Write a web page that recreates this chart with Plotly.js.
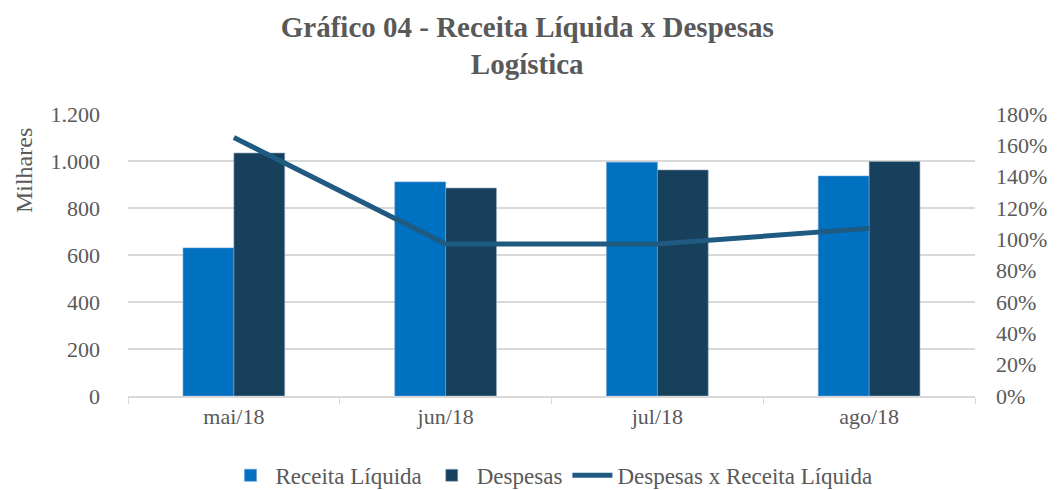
<!DOCTYPE html>
<html>
<head>
<meta charset="utf-8">
<script src="https://cdn.plot.ly/plotly-3.0.1.min.js"></script>
<style>
    html, body { margin: 0; padding: 0; background: #ffffff; }
    #plotDiv { width: 1063px; height: 490px; }
</style>
</head>
<body>
<div id="plotDiv"></div>
<script>
// values (milhares / %)
var meses = ['mai/18', 'jun/18', 'jul/18', 'ago/18'];
var receitaLiquida = [630, 911, 995, 936];
var despesas = [1034, 885, 962, 998];
var despesasSobreReceita = [165, 97, 97, 107];

var fontFamily = '"Liberation Serif", "DejaVu Serif", serif';
var textColor = '#595959';

function initializePlotDiv() {
    var plotDiv = document.getElementById('plotDiv');

    var trace_receita = {
        x: meses,
        y: receitaLiquida,
        type: 'bar',
        name: 'Receita Líquida',
        marker: {color: '#0070C0', line: {color: '#5B9BD5', width: 0.6}}
    };

    var trace_despesas = {
        x: meses,
        y: despesas,
        type: 'bar',
        name: 'Despesas',
        marker: {color: '#16405B', line: {color: '#8FA8BC', width: 0.6}}
    };

    var trace_ratio = {
        x: meses,
        y: despesasSobreReceita,
        type: 'scatter',
        mode: 'lines',
        yaxis: 'y2',
        name: 'Despesas x Receita Líquida',
        line: {color: '#1F5A80', width: 5}
    };

    var layoutOpt = {
        title: {
            text: '<b>Gráfico 04 - Receita Líquida x Despesas<br>Logística</b>',
            x: 0.496,
            xanchor: 'center',
            yref: 'container',
            y: 0.925,
            yanchor: 'top',
            font: {family: fontFamily, size: 29, color: textColor}
        },
        separators: ',.',
        barmode: 'group',
        bargap: 0.52,
        bargroupgap: 0,
        plot_bgcolor: '#ffffff',
        paper_bgcolor: '#ffffff',
        font: {family: fontFamily, size: 22, color: textColor},
        xaxis: {
            showline: true,
            linecolor: '#d9d9d9',
            linewidth: 1.5,
            ticks: 'outside',
            tickson: 'boundaries',
            ticklen: 6,
            tickcolor: '#d9d9d9',
            tickfont: {family: fontFamily, size: 22, color: textColor}
        },
        yaxis: {
            range: [0, 1200],
            dtick: 200,
            tickformat: ',d',
            gridcolor: '#d9d9d9',
            gridwidth: 1.5,
            zeroline: false,
            ticks: '',
            ticklabelstandoff: 27,
            automargin: false,
            tickfont: {family: fontFamily, size: 22, color: textColor}
        },
        yaxis2: {
            overlaying: 'y',
            side: 'right',
            range: [0, 180],
            dtick: 20,
            ticksuffix: '%',
            showgrid: false,
            zeroline: false,
            automargin: false,
            ticklabelstandoff: 20,
            tickfont: {family: fontFamily, size: 22, color: textColor}
        },
        annotations: [{
            text: 'Milhares',
            textangle: -90,
            xref: 'paper',
            yref: 'paper',
            x: -0.122,
            y: 0.80,
            xanchor: 'center',
            yanchor: 'middle',
            showarrow: false,
            font: {family: fontFamily, size: 24, color: textColor}
        }],
        margin: {l: 128, r: 88, t: 114, b: 94, autoexpand: false},
        showlegend: true,
        legend: {
            orientation: 'h',
            x: 0.5,
            xanchor: 'center',
            yref: 'container',
            y: 0.03,
            yanchor: 'middle',
            itemwidth: 40,
            font: {family: fontFamily, size: 23, color: textColor},
            traceorder: 'normal'
        }
    };

    Plotly.newPlot(plotDiv, [trace_receita, trace_despesas, trace_ratio], layoutOpt, {displayModeBar: false});
}

initializePlotDiv();
</script>
</body>
</html>
